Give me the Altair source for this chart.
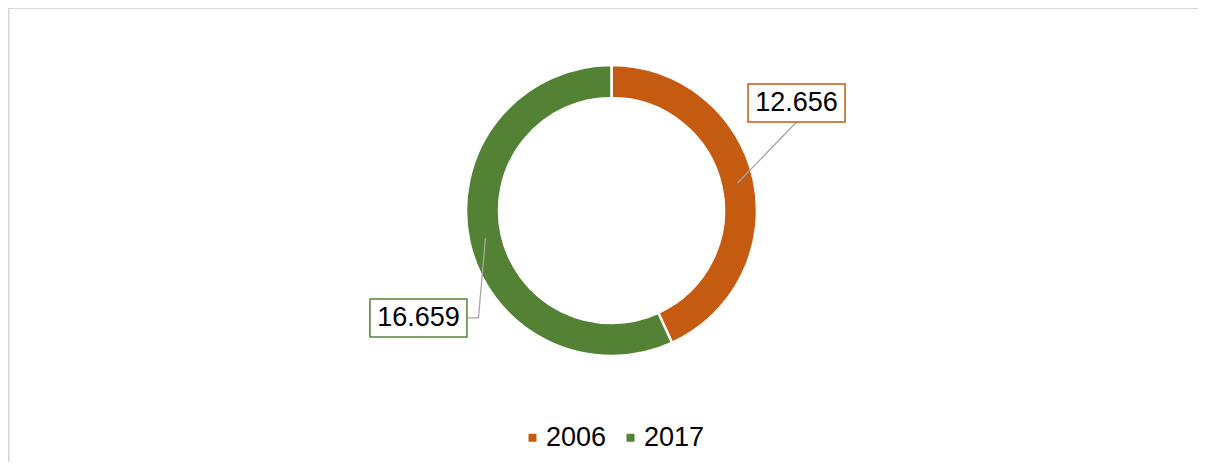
import math
import altair as alt
import pandas as pd

# ---- data ----
years = ["2006", "2017"]
values = [12.656, 16.659]
labels = ["12.656", "16.659"]
colors = ["#C55A11", "#548235"]

# ---- layout / style ----
W, H = 1190, 454
CX, CY = 603.5, 202.5
R_OUT, R_IN = 145.5, 112.5
R_MID = (R_OUT + R_IN) / 2
BOX_W, BOX_H = 97, 38
box_offsets = [(59, -80), (-67, 80)]
FONT = "Liberation Sans"
FS = 27

total = sum(values)
boxes, pts = [], []
start = 0.0
for i, (yr, v) in enumerate(zip(years, values)):
    frac = v / total
    mid = (start + frac / 2) * 2 * math.pi
    start += frac
    ax = CX + R_MID * math.sin(mid)
    ay = CY - R_MID * math.cos(mid)
    dx, dy = box_offsets[i]
    bx, by = ax + dx, ay + dy
    boxes.append(dict(x=bx - BOX_W / 2, x2=bx + BOX_W / 2, y=by - BOX_H / 2,
                      y2=by + BOX_H / 2, cx=bx, cy=by, label=labels[i], c=colors[i]))
    if dy < 0:
        path = [(ax, ay), (bx, by + BOX_H / 2)]
    else:
        path = [(ax, ay), (ax - 7, by), (bx + BOX_W / 2, by)]
    for k, (px, py) in enumerate(path):
        pts.append(dict(x=px, y=py, k=k, g=yr))

df_arc = pd.DataFrame({"year": years, "value": values, "o": [0, 1]})
df_box = pd.DataFrame(boxes)
df_pts = pd.DataFrame(pts)

xs = alt.Scale(domain=[0, W], range=[0, W])
ys = alt.Scale(domain=[0, H], range=[0, H])

# chart-area frame (top and left edges visible in the reference)
frame_top = alt.Chart(df_arc).mark_rule(color="#d9d9d9", strokeWidth=1).encode(
    x=alt.value(0), x2=alt.value(W + 10), y=alt.value(0.5))
frame_left = alt.Chart(df_arc).mark_rule(color="#d9d9d9", strokeWidth=1.5).encode(
    x=alt.value(0.75), y=alt.value(0.5), y2=alt.value(H + 10))

arc = alt.Chart(df_arc).mark_arc(radius=R_OUT, radius2=R_IN, stroke="white",
                                 strokeWidth=2.5).encode(
    theta=alt.Theta("value:Q", stack=True),
    order=alt.Order("o:Q"),
    color=alt.Color("year:N", scale=alt.Scale(domain=years, range=colors),
                    legend=alt.Legend(orient="none", legendX=511, legendY=416,
                                      direction="horizontal", title=None,
                                      symbolType="square", symbolSize=64,
                                      symbolStrokeWidth=0, labelFontSize=FS,
                                      labelFont=FONT, labelColor="black",
                                      labelOffset=0, columnPadding=10, padding=0)),
    x=alt.value(CX), y=alt.value(CY),
)

lines = alt.Chart(df_pts).mark_line(color="#a6a6a6", strokeWidth=1.3).encode(
    x=alt.X("x:Q", scale=xs, axis=None),
    y=alt.Y("y:Q", scale=ys, axis=None),
    detail="g:N", order="k:Q",
)

rects = alt.Chart(df_box).mark_rect(fill="white", strokeWidth=1.5).encode(
    x=alt.X("x:Q", scale=xs, axis=None), x2="x2:Q",
    y=alt.Y("y:Q", scale=ys, axis=None), y2="y2:Q",
    stroke=alt.Stroke("c:N", scale=None),
)

texts = alt.Chart(df_box).mark_text(font=FONT, fontSize=FS, color="black",
                                    baseline="middle", align="center").encode(
    x=alt.X("cx:Q", scale=xs, axis=None),
    y=alt.Y("cy:Q", scale=ys, axis=None),
    text="label:N",
)

chart = alt.layer(frame_top, frame_left, arc, lines, rects, texts).properties(
    width=W, height=H, padding=0,
    autosize=alt.AutoSizeParams(type="none"),
    background="white",
).configure_view(stroke=None)

chart.save("out.html", embed_options={"renderer": "svg", "actions": False})
